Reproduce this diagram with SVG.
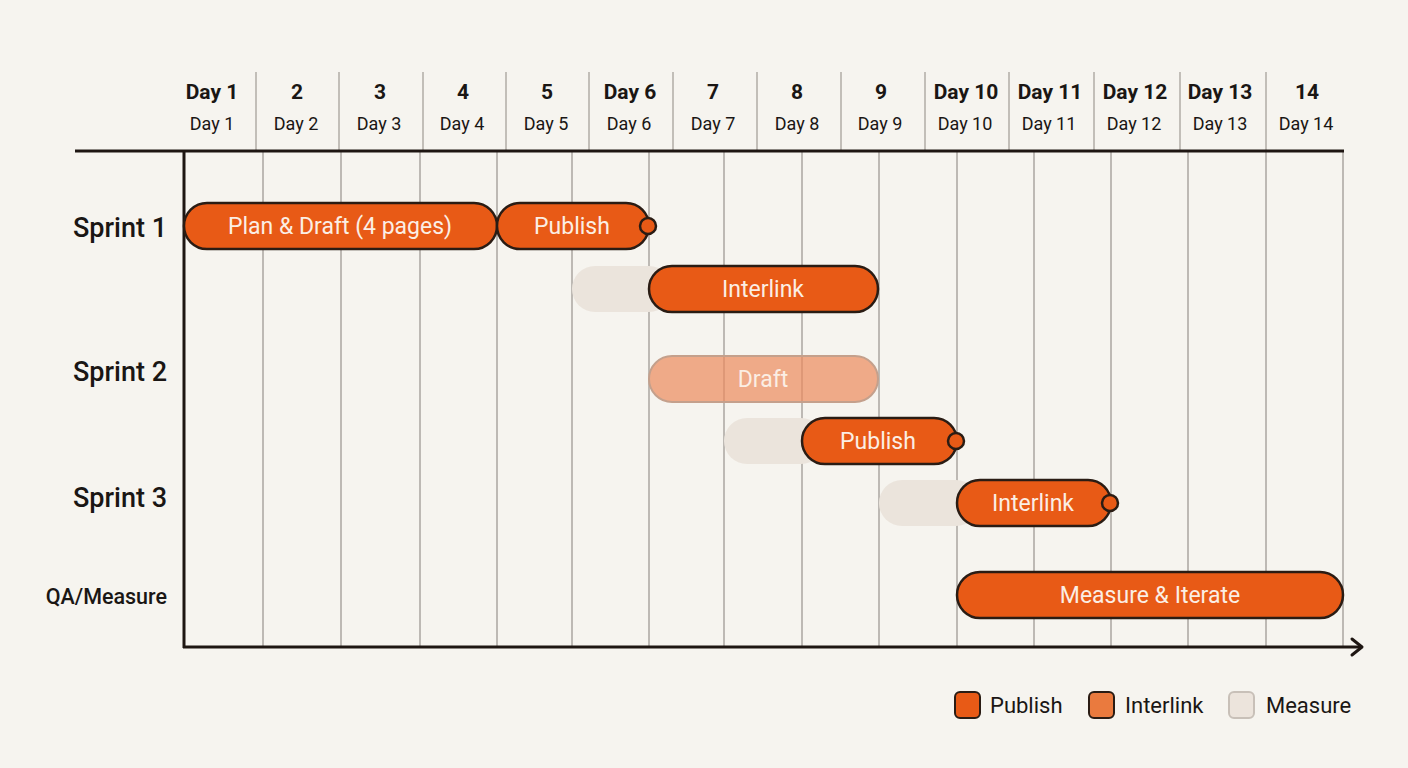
<svg xmlns="http://www.w3.org/2000/svg" width="1408" height="768" viewBox="0 0 1408 768">
<defs>
<style>
.bg{fill:#f6f4ef}
.hd{font-family:Roboto,"Liberation Sans",sans-serif;font-size:21px;font-weight:700;fill:#1a1614;text-anchor:middle}
.sd{font-family:Roboto,"Liberation Sans",sans-serif;font-size:18px;fill:#1a1614;text-anchor:middle}
.hsep{stroke:#b0aca6;stroke-width:1.5}
.grid{stroke:#aaa6a0;stroke-width:1.5}
.axis{stroke:#1e1612;stroke-width:3;fill:none}
.row{font-family:Roboto,"Liberation Sans",sans-serif;font-size:27px;font-weight:500;fill:#1a1614;text-anchor:end}
.rows{font-family:Roboto,"Liberation Sans",sans-serif;font-size:21.5px;font-weight:500;fill:#1a1614;text-anchor:end}
.bar{fill:#e85a16;stroke:#2a1c14;stroke-width:2.5}
.ghost{fill:#ebe4dc}
.light{fill:#ed8a5c;fill-opacity:0.7;stroke:#c4a08c;stroke-width:2}
.bt{font-family:Roboto,"Liberation Sans",sans-serif;font-size:23px;fill:#fbeee4;text-anchor:middle}
.dot{fill:#e85a16;stroke:#2a1c14;stroke-width:2.5}
.lg{font-family:Roboto,"Liberation Sans",sans-serif;font-size:22px;fill:#1a1614}
</style>
</defs>
<rect class="bg" x="0" y="0" width="1408" height="768"/>

<g id="header">
<g class="hsep">
<line x1="256" y1="72" x2="256" y2="150"/>
<line x1="339" y1="72" x2="339" y2="150"/>
<line x1="423" y1="72" x2="423" y2="150"/>
<line x1="506" y1="72" x2="506" y2="150"/>
<line x1="589" y1="72" x2="589" y2="150"/>
<line x1="673" y1="72" x2="673" y2="150"/>
<line x1="757" y1="72" x2="757" y2="150"/>
<line x1="841" y1="72" x2="841" y2="150"/>
<line x1="925" y1="72" x2="925" y2="150"/>
<line x1="1009" y1="72" x2="1009" y2="150"/>
<line x1="1094" y1="72" x2="1094" y2="150"/>
<line x1="1180" y1="72" x2="1180" y2="150"/>
<line x1="1266" y1="72" x2="1266" y2="150"/>
</g>
<text class="hd" x="212" y="99">Day 1</text><text class="sd" x="212" y="130">Day 1</text>
<text class="hd" x="297" y="99">2</text><text class="sd" x="296" y="130">Day 2</text>
<text class="hd" x="380" y="99">3</text><text class="sd" x="379" y="130">Day 3</text>
<text class="hd" x="463" y="99">4</text><text class="sd" x="462" y="130">Day 4</text>
<text class="hd" x="547" y="99">5</text><text class="sd" x="546" y="130">Day 5</text>
<text class="hd" x="630" y="99">Day 6</text><text class="sd" x="629" y="130">Day 6</text>
<text class="hd" x="713" y="99">7</text><text class="sd" x="713" y="130">Day 7</text>
<text class="hd" x="797" y="99">8</text><text class="sd" x="797" y="130">Day 8</text>
<text class="hd" x="881" y="99">9</text><text class="sd" x="880" y="130">Day 9</text>
<text class="hd" x="966" y="99">Day 10</text><text class="sd" x="965" y="130">Day 10</text>
<text class="hd" x="1050" y="99">Day 11</text><text class="sd" x="1049" y="130">Day 11</text>
<text class="hd" x="1135" y="99">Day 12</text><text class="sd" x="1134" y="130">Day 12</text>
<text class="hd" x="1220" y="99">Day 13</text><text class="sd" x="1220" y="130">Day 13</text>
<text class="hd" x="1307" y="99">14</text><text class="sd" x="1306" y="130">Day 14</text>
</g>

<g id="grid" class="grid">
<line x1="263" y1="151" x2="263" y2="647"/>
<line x1="341" y1="151" x2="341" y2="647"/>
<line x1="420" y1="151" x2="420" y2="647"/>
<line x1="497" y1="151" x2="497" y2="647"/>
<line x1="572" y1="151" x2="572" y2="647"/>
<line x1="649" y1="151" x2="649" y2="647"/>
<line x1="724" y1="151" x2="724" y2="647"/>
<line x1="802" y1="151" x2="802" y2="647"/>
<line x1="879" y1="151" x2="879" y2="647"/>
<line x1="957" y1="151" x2="957" y2="647"/>
<line x1="1034" y1="151" x2="1034" y2="647"/>
<line x1="1111" y1="151" x2="1111" y2="647"/>
<line x1="1188" y1="151" x2="1188" y2="647"/>
<line x1="1266" y1="151" x2="1266" y2="647"/>
<line x1="1343" y1="151" x2="1343" y2="647"/>
</g>

<g id="axes">
<line class="axis" x1="75" y1="151" x2="1344" y2="151"/>
<line class="axis" x1="184" y1="151" x2="184" y2="648"/>
<line class="axis" x1="183" y1="647" x2="1361" y2="647"/>
<path class="axis" d="M1352 639 L1362 647 L1352 655" stroke-linecap="round" stroke-linejoin="round"/>
</g>

<g id="row-labels">
<text class="row" x="167" y="237">Sprint 1</text>
<text class="row" x="167" y="381">Sprint 2</text>
<text class="row" x="167" y="507">Sprint 3</text>
<text class="rows" x="167" y="604">QA/Measure</text>
</g>

<g id="ghosts">
<rect class="ghost" x="572" y="266" width="100" height="46" rx="23"/>
<rect class="ghost" x="724" y="418" width="100" height="46" rx="23"/>
<rect class="ghost" x="879" y="480" width="100" height="46" rx="23"/>
</g>

<g id="bar-plan"><rect class="bar" x="184" y="203" width="313" height="46" rx="23"/><text class="bt" x="340" y="234">Plan &amp; Draft (4 pages)</text></g>
<g id="bar-publish1"><rect class="bar" x="497" y="203" width="152" height="46" rx="23"/><circle class="dot" cx="648" cy="226" r="8"/><text class="bt" x="572" y="234">Publish</text></g>
<g id="bar-interlink1"><rect class="bar" x="649" y="266" width="229" height="46" rx="23"/><text class="bt" x="763" y="297">Interlink</text></g>
<g id="bar-draft"><rect class="light" x="649" y="356" width="229" height="46" rx="23"/><text class="bt" x="763" y="387">Draft</text></g>
<g id="bar-publish2"><rect class="bar" x="802" y="418" width="155" height="46" rx="23"/><circle class="dot" cx="956" cy="441" r="8"/><text class="bt" x="878" y="449">Publish</text></g>
<g id="bar-interlink2"><rect class="bar" x="957" y="480" width="154" height="46" rx="23"/><circle class="dot" cx="1110" cy="503" r="8"/><text class="bt" x="1033" y="511">Interlink</text></g>
<g id="bar-measure"><rect class="bar" x="957" y="572" width="386" height="46" rx="23"/><text class="bt" x="1150" y="603">Measure &amp; Iterate</text></g>

<g id="legend">
<rect x="955" y="692" width="25" height="26" rx="5" fill="#e85a16" stroke="#2a1c14" stroke-width="2"/>
<text class="lg" x="990" y="713">Publish</text>
<rect x="1089" y="692" width="25" height="26" rx="5" fill="#ea7a3e" stroke="#2a1c14" stroke-width="2"/>
<text class="lg" x="1125" y="713">Interlink</text>
<rect x="1229" y="692" width="25" height="26" rx="5" fill="#ece4dc" stroke="#c8c0b8" stroke-width="2"/>
<text class="lg" x="1266" y="713">Measure</text>
</g>
</svg>
